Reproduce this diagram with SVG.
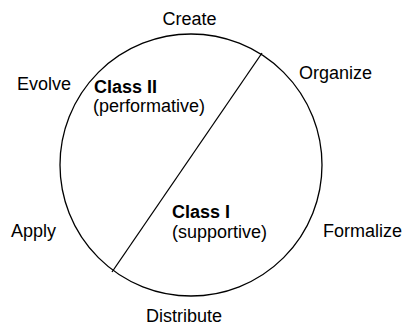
<svg xmlns="http://www.w3.org/2000/svg" width="403" height="325" viewBox="0 0 403 325">
<style>
text{font-family:"Liberation Sans",Arial,sans-serif;font-size:18px;fill:#000}
.b{font-weight:bold}
.s{fill:none;stroke:#000;stroke-width:1.3}
</style>
<rect width="403" height="325" fill="#fff"/>
<g id="cycle"><circle class="s" cx="191" cy="165" r="131"/></g>
<g id="connectors"><line class="s" x1="262" y1="53" x2="112" y2="272"/></g>
<g id="create"><text x="189.5" y="25" text-anchor="middle">Create</text></g>
<g id="organize"><text x="299" y="79">Organize</text></g>
<g id="evolve"><text x="17" y="89.5">Evolve</text></g>
<g id="class2"><text class="b" x="94" y="93">Class II</text><text x="93" y="112">(performative)</text></g>
<g id="class1"><text class="b" x="172" y="218">Class I</text><text x="172" y="238">(supportive)</text></g>
<g id="apply"><text x="11" y="237">Apply</text></g>
<g id="formalize"><text x="323" y="237">Formalize</text></g>
<g id="distribute"><text x="184" y="322" text-anchor="middle">Distribute</text></g>
</svg>
